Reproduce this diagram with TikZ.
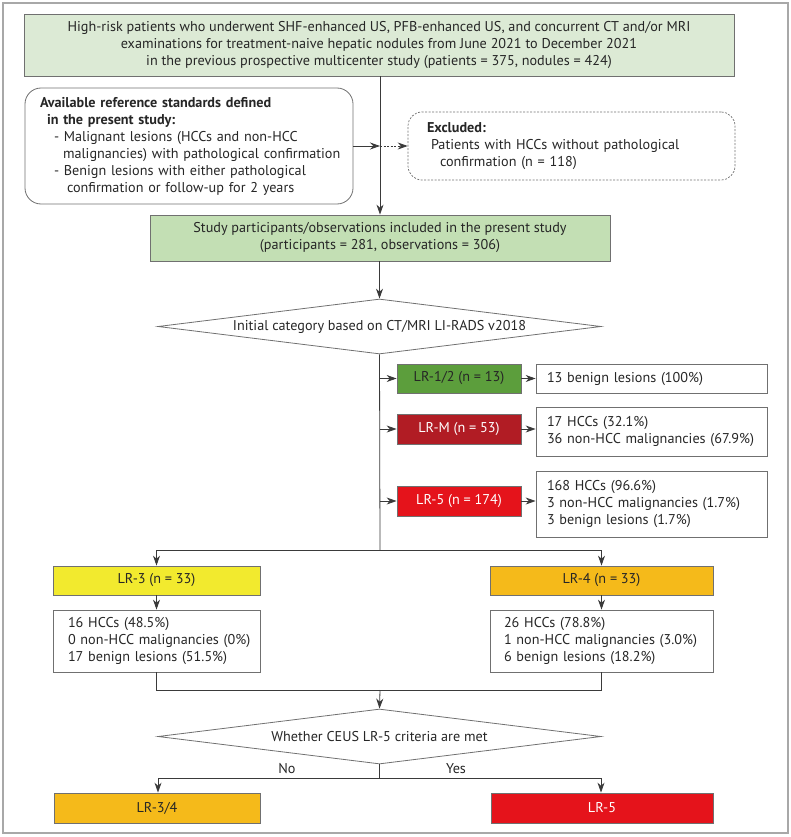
\documentclass[tikz,border=0pt]{standalone}
\usepackage{fontspec}
\setmainfont{PT Sans}
\usetikzlibrary{shapes.geometric,arrows.meta}
\definecolor{frame}{HTML}{A8A8A8}
\definecolor{bord}{HTML}{707070}
\definecolor{conn}{HTML}{3A3A3A}
\definecolor{palegreen}{HTML}{DCEAD5}
\definecolor{midgreen}{HTML}{C3DFB4}
\definecolor{lrgreen}{HTML}{5C9E3C}
\definecolor{lrdark}{HTML}{B11C24}
\definecolor{lrred}{HTML}{E5131B}
\definecolor{lryellow}{HTML}{F2EA2E}
\definecolor{lrorange}{HTML}{F5BA1A}
\tikzset{
  every node/.style={font=\fontsize{14.2}{17}\selectfont, text=black!85},
  box/.style={draw=bord, line width=0.8pt, inner sep=0pt, align=center},
  lbox/.style={draw=bord, line width=0.8pt, inner ysep=0pt, align=left},
  dia/.style={draw=bord, line width=0.8pt, diamond, inner sep=0pt, aspect=8, align=center},
  conline/.style={draw=conn, line width=0.8pt},
  arr/.style={conline, -{Stealth[length=10pt,width=7pt]}},
}
\begin{document}
\begin{tikzpicture}[x=1pt,y=-1pt]
\useasboundingbox (0,0) rectangle (791,837);
\draw[frame, line width=1.4pt] (3,3) rectangle (788,833);

\node[box, fill=palegreen, minimum width=710pt, minimum height=62pt] (top) at (379,45)
 {High-risk patients who underwent SHF-enhanced US, PFB-enhanced US, and concurrent CT and/or MRI\\
  examinations for treatment-naive hepatic nodules from June 2021 to December 2021\\
  in the previous prospective multicenter study (patients = 375, nodules = 424)};

\node[draw=bord, line width=0.8pt, rounded corners=16pt, minimum width=328pt, minimum height=116pt,
      text width=298pt, inner xsep=15pt, inner ysep=0pt, align=left] (ref) at (189,146)
 {\mbox{\textbf{Available reference standards defined}}\\
  \mbox{\hspace*{7pt}\textbf{in the present study:}}\\
  \mbox{\hspace*{14pt}- Malignant lesions (HCCs and non-HCC}\\
  \mbox{\hspace*{23pt}malignancies) with pathological confirmation}\\
  \mbox{\hspace*{14pt}- Benign lesions with either pathological}\\
  \mbox{\hspace*{27pt}confirmation or follow-up for 2 years}};

\node[draw=bord, line width=0.7pt, dashed, dash pattern=on 2pt off 1.5pt, rounded corners=14pt,
      minimum width=327pt, minimum height=68pt, text width=297pt, inner xsep=15pt, inner ysep=0pt, align=left] (exc) at (571.5,146)
 {\mbox{\hspace*{4pt}\textbf{Excluded:}}\\
  \mbox{\hspace*{8pt}Patients with HCCs without pathological}\\
  \mbox{\hspace*{17pt}confirmation (n = 118)}};

\coordinate (junc) at (380,146);

\node[box, fill=midgreen, minimum width=460pt, minimum height=46pt] (study) at (380,238)
 {Study participants/observations included in the present study\\
  (participants = 281, observations = 306)};

\node[dia, minimum width=443pt, minimum height=55pt] (d1) at (379.5,326.5)
 {Initial category based on CT/MRI LI-RADS v2018};

% right-hand branch boxes
\node[box, fill=lrgreen, minimum width=124pt, minimum height=29pt] (lr12) at (459,378.5) {LR-1/2 (n = 13)};
\node[lbox, minimum width=231pt, minimum height=29pt, text width=209pt, inner xsep=11pt] (r12) at (651.5,378.5)
 {\mbox{13 benign lesions (100\%)}};

\node[box, fill=lrdark, minimum width=124pt, minimum height=30pt, text=white] (lrm) at (459,429) {LR-M (n = 53)};
\node[lbox, minimum width=231pt, minimum height=49pt, text width=209pt, inner xsep=11pt] (rm) at (651.5,431.5)
 {\mbox{17 HCCs (32.1\%)}\\\mbox{36 non-HCC malignancies (67.9\%)}};

\node[box, fill=lrred, minimum width=124pt, minimum height=30pt, text=white] (lr5) at (459,501) {LR-5 (n = 174)};
\node[lbox, minimum width=231pt, minimum height=66pt, text width=209pt, inner xsep=11pt] (r5) at (651.5,504)
 {\mbox{168 HCCs (96.6\%)}\\\mbox{3 non-HCC malignancies (1.7\%)}\\\mbox{3 benign lesions (1.7\%)}};

\coordinate (s12) at (380,378.5);
\coordinate (sm) at (380,429);
\coordinate (s5) at (380,501);
\coordinate (split) at (380,550);
\coordinate (splitL) at (156.5,550);
\coordinate (splitR) at (601.5,550);

% lower boxes
\node[box, fill=lryellow, minimum width=207pt, minimum height=29pt] (lr3) at (156.5,580.5) {LR-3 (n = 33)};
\node[lbox, minimum width=207pt, minimum height=62pt, text width=177pt, inner xsep=15pt] (r3) at (156.5,641)
 {\mbox{16 HCCs (48.5\%)}\\\mbox{0 non-HCC malignancies (0\%)}\\\mbox{17 benign lesions (51.5\%)}};

\node[box, fill=lrorange, minimum width=223pt, minimum height=29pt] (lr4) at (601.5,580.5) {LR-4 (n = 33)};
\node[lbox, minimum width=223pt, minimum height=62pt, text width=195pt, inner xsep=14pt] (r4) at (601.5,641)
 {\mbox{26 HCCs (78.8\%)}\\\mbox{1 non-HCC malignancies (3.0\%)}\\\mbox{6 benign lesions (18.2\%)}};

\coordinate (joinL) at (156.5,690);
\coordinate (joinR) at (601.5,690);
\coordinate (join) at (380,690);

\node[dia, minimum width=443pt, minimum height=55pt] (d2) at (379.5,736.5)
 {Whether CEUS LR-5 criteria are met};

\coordinate (br) at (379.5,778);
\coordinate (brL) at (158,778);
\coordinate (brR) at (601,778);

\node[box, fill=lrorange, minimum width=206pt, minimum height=30pt] (lr34) at (157,808) {LR-3/4};
\node[box, fill=lrred, minimum width=222pt, minimum height=30pt, text=white] (lr5b) at (602,808) {LR-5};

\node (no) at (287,769) {No};
\node (yes) at (456,769) {Yes};

% connectors
\draw[arr] (top.south -| junc) -- (study.north -| junc);
\draw[arr] (ref.east) -- (junc);
\draw[arr, dash pattern=on 2pt off 1.5pt] (junc) -- (exc.west);
\draw[arr] (study.south -| d1.north) -- (d1.north);
\draw[conline] (d1.south) -- (split);
\draw[arr] (s12) -- (lr12.west);
\draw[arr] (sm) -- (lrm.west);
\draw[arr] (s5) -- (lr5.west);
\draw[arr] (lr12.east) -- (r12.west);
\draw[arr] (lrm.east) -- (rm.west |- lrm.east);
\draw[arr] (lr5.east) -- (r5.west |- lr5.east);
\draw[conline] (splitL) -- (splitR);
\draw[arr] (splitL) -- (lr3.north);
\draw[arr] (splitR) -- (lr4.north);
\draw[arr] (lr3.south) -- (r3.north);
\draw[arr] (lr4.south) -- (r4.north);
\draw[conline] (r3.south) -- (joinL) -- (joinR) -- (r4.south);
\draw[arr] (join) -- (d2.north);
\draw[conline] (d2.south) -- (br);
\draw[conline] (brL) -- (brR);
\draw[arr] (brL) -- (lr34.north -| brL);
\draw[arr] (brR) -- (lr5b.north -| brR);
\end{tikzpicture}
\end{document}
